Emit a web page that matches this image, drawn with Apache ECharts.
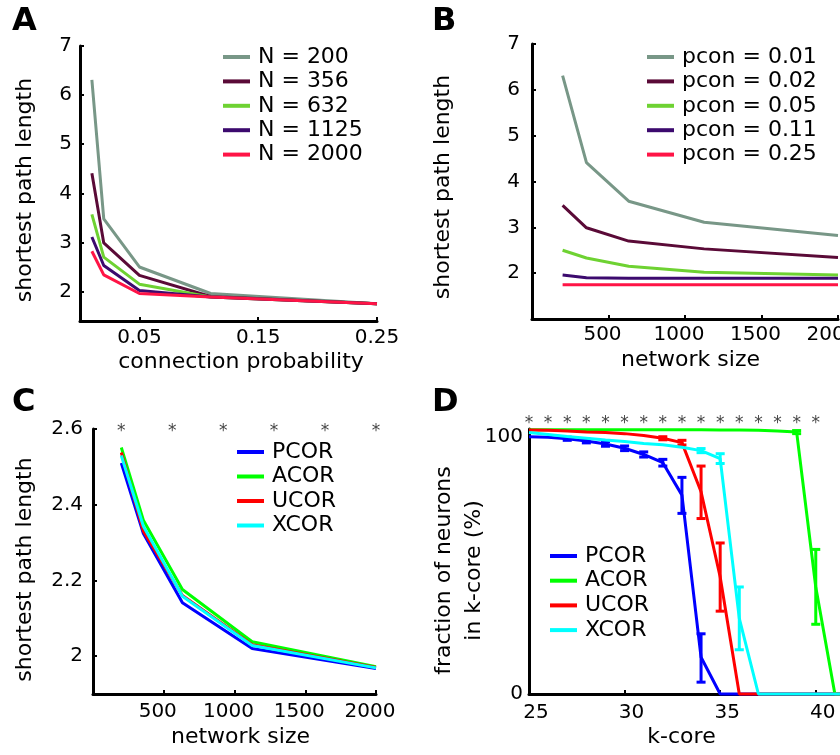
<!DOCTYPE html>
<html>
<head>
<meta charset="utf-8">
<script src="https://cdn.jsdelivr.net/npm/echarts@6/dist/echarts.min.js"></script>
<style>html,body{margin:0;padding:0;background:#fff}#c{width:840px;height:755px}</style>
</head>
<body>
<div id="c"></div>
<script>
// ---------- DATA ----------
// Panel A / B
const connProb = [0.01, 0.02, 0.05, 0.11, 0.25];
const netSize = [200, 356, 632, 1125, 2000];
const sizeNames = ['N = 200', 'N = 356', 'N = 632', 'N = 1125', 'N = 2000'];
const probNames = ['pcon = 0.01', 'pcon = 0.02', 'pcon = 0.05', 'pcon = 0.11', 'pcon = 0.25'];
const spl_N200  = [6.31, 3.48, 2.50, 1.96, 1.75];
const spl_N356  = [4.41, 2.99, 2.33, 1.90, 1.75];
const spl_N632  = [3.57, 2.70, 2.15, 1.89, 1.75];
const spl_N1125 = [3.11, 2.53, 2.02, 1.89, 1.75];
const spl_N2000 = [2.82, 2.34, 1.96, 1.89, 1.75];
const abTickY = [2, 3, 4, 5, 6, 7];
const aTickX = [0.05, 0.15, 0.25];
const sizeTicks = [500, 1000, 1500, 2000];

// Panel C
const corrNames = ['PCOR', 'ACOR', 'UCOR', 'XCOR'];
const spl_PCOR = [2.510, 2.324, 2.141, 2.020, 1.967];
const spl_ACOR = [2.551, 2.359, 2.176, 2.038, 1.972];
const spl_UCOR = [2.538, 2.330, 2.160, 2.030, 1.970];
const spl_XCOR = [2.530, 2.343, 2.158, 2.028, 1.969];
const cTickY = [2, 2.2, 2.4, 2.6];
const cStarX = [200, 560, 920, 1280, 1640, 2000];
const cStarY = 2.592;

// Panel D
const kcore = [25, 26, 27, 28, 29, 30, 31, 32, 33, 34, 35, 36, 37, 38, 39, 40, 41, 42];
const kc_PCOR = [100.0, 99.8, 99.2, 98.3, 97.2, 95.5, 93.1, 89.9, 77.3, 14.3, 0, 0, 0, 0, 0, 0, 0, 0];
const kc_ACOR = [102.7, 102.7, 102.7, 102.7, 102.7, 102.7, 102.7, 102.7, 102.7, 102.7, 102.6, 102.6, 102.5, 102.2, 101.8, 41.6, 0, 0];
const kc_UCOR = [102.6, 102.5, 102.2, 101.8, 101.6, 101.2, 100.5, 99.4, 97.7, 78.6, 45.5, 0, 0, 0, 0, 0, 0, 0];
const kc_XCOR = [101.6, 100.9, 100.1, 99.4, 98.7, 98.1, 97.4, 96.9, 95.9, 94.6, 91.5, 29.4, 0, 0, 0, 0, 0, 0];
// error bars: [k, low, high]
const err_PCOR = [[27, 98.6, 99.8], [28, 97.6, 99.0], [29, 96.3, 98.1], [30, 94.6, 96.4], [31, 92.1, 94.1], [32, 88.6, 91.2], [33, 70.2, 84.2], [34, 4.6, 23.4]];
const err_ACOR = [[39, 101.2, 102.4], [40, 27.1, 56.2]];
const err_UCOR = [[32, 98.8, 100.0], [33, 96.8, 98.6], [34, 68.2, 88.6], [35, 32.2, 58.7]];
const err_XCOR = [[34, 93.8, 95.4], [35, 89.6, 93.4], [36, 17.2, 41.6]];
const dTickX = [25, 30, 35, 40];
const dTickY = [0, 100];
const dStarK = [25, 26, 27, 28, 29, 30, 31, 32, 33, 34, 35, 36, 37, 38, 39, 40];
const dStarY = 105;

// ---------- STYLE ----------
const FONT = 'DejaVu Sans';
const abColors = ['#789787', '#5a0a37', '#6ed232', '#3c0a6e', '#ff1446'];
const corrColors = ['#0000ff', '#00ff00', '#ff0000', '#00ffff'];

const chart = echarts.init(document.getElementById('c'), null, {renderer: 'canvas', width: 840, height: 755});

function zip(xs, ys) { return xs.map((x, i) => [x, ys[i]]); }
const plainNum = v => String(v);

function axisBase(gridIndex, min, max, ticks, labelMargin, labelPadding) {
  return {
    type: 'value', gridIndex, min, max,
    nameMoveOverlap: false,
    axisLine: {show: true, onZero: false, lineStyle: {color: '#000', width: 3}},
    axisTick: {show: true, inside: true, length: 4, lineStyle: {color: '#000', width: 2}, customValues: ticks},
    axisLabel: {show: true, customValues: ticks, formatter: plainNum, fontSize: 20, color: '#000', fontFamily: FONT, margin: labelMargin, padding: labelPadding || 0},
    splitLine: {show: false},
    nameTextStyle: {fontSize: 22, color: '#000', fontFamily: FONT}
  };
}

function xAxis(gridIndex, min, max, ticks, name, gap, labelMargin, labelPadding, namePadding) {
  const a = axisBase(gridIndex, min, max, ticks, labelMargin, labelPadding);
  a.position = 'bottom';
  a.name = name; a.nameLocation = 'middle'; a.nameGap = gap;
  a.nameTextStyle.padding = namePadding || 0;
  return a;
}
function yAxis(gridIndex, min, max, ticks, name, gap, labelMargin, namePadding, lineHeight) {
  const a = axisBase(gridIndex, min, max, ticks, labelMargin);
  a.position = 'left';
  a.name = name; a.nameLocation = 'middle'; a.nameGap = gap;
  a.nameTextStyle.padding = namePadding || 0;
  if (lineHeight) a.nameTextStyle.lineHeight = lineHeight;
  return a;
}

function lineSeries(name, data, color, xi, yi) {
  return {
    type: 'line', name, data, xAxisIndex: xi, yAxisIndex: yi,
    symbol: 'none', color, clip: false,
    lineStyle: {color, width: 3}, itemStyle: {color},
    emphasis: {disabled: true}, animation: false
  };
}

function errRender(params, api) {
  const x = api.value(0), lo = api.value(1), hi = api.value(2);
  const p1 = api.coord([x, lo]), p2 = api.coord([x, hi]);
  const w = 4.5;
  const style = {stroke: api.visual('color'), lineWidth: 3};
  return {type: 'group', children: [
    {type: 'line', shape: {x1: p1[0], y1: p1[1], x2: p2[0], y2: p2[1]}, style},
    {type: 'line', shape: {x1: p1[0] - w, y1: p1[1], x2: p1[0] + w, y2: p1[1]}, style},
    {type: 'line', shape: {x1: p2[0] - w, y1: p2[1], x2: p2[0] + w, y2: p2[1]}, style}
  ]};
}
function errSeries(name, data, color, xi, yi) {
  return {type: 'custom', name: name + ' sem', data, xAxisIndex: xi, yAxisIndex: yi,
    renderItem: errRender, itemStyle: {color}, clip: false, animation: false, silent: true};
}
function starSeries(points, xi, yi) {
  return {
    type: 'scatter', name: 'sig', data: points, xAxisIndex: xi, yAxisIndex: yi,
    symbolSize: 1, clip: false, silent: true, itemStyle: {color: 'rgba(0,0,0,0)'},
    label: {show: true, position: 'inside', formatter: '*', fontSize: 17, color: '#111', fontFamily: FONT}
  };
}

// series
const series = [];
const splByN = [spl_N200, spl_N356, spl_N632, spl_N1125, spl_N2000];
splByN.forEach((arr, i) => series.push(lineSeries(sizeNames[i], zip(connProb, arr), abColors[i], 0, 0)));
connProb.forEach((p, j) => series.push(lineSeries(probNames[j], zip(netSize, splByN.map(a => a[j])), abColors[j], 1, 1)));
const splC = [spl_PCOR, spl_ACOR, spl_UCOR, spl_XCOR];
splC.forEach((arr, i) => series.push(lineSeries(corrNames[i], zip(netSize, arr), corrColors[i], 2, 2)));
series.push(starSeries(cStarX.map(x => [x, cStarY]), 2, 2));
const kcD = [kc_PCOR, kc_ACOR, kc_UCOR, kc_XCOR];
const errD = [err_PCOR, err_ACOR, err_UCOR, err_XCOR];
kcD.forEach((arr, i) => {
  series.push(lineSeries(corrNames[i], zip(kcore, arr), corrColors[i], 3, 3));
  series.push(errSeries(corrNames[i], errD[i], corrColors[i], 3, 3));
});
series.push(starSeries(dStarK.map(k => [k, dStarY]), 3, 3));

function legend(data, left, top, gap) {
  return {
    data, left, top, orient: 'vertical', padding: 0, itemGap: gap,
    itemWidth: 27, itemHeight: 4, icon: 'rect', selectedMode: false,
    textStyle: {fontSize: 22, color: '#000', fontFamily: FONT, lineHeight: 24, padding: [0, 0, 0, 3]}
  };
}

const titleStyle = {fontSize: 32, fontWeight: 'bold', color: '#000', fontFamily: FONT};
const gridBase = {containLabel: false, outerBoundsMode: 'none'};
const option = {
  animation: false,
  backgroundColor: '#ffffff',
  textStyle: {fontFamily: FONT, color: '#000'},
  title: [
    {text: 'A', left: 12, top: 6, padding: 0, textStyle: titleStyle},
    {text: 'B', left: 432, top: 6, padding: 0, textStyle: titleStyle},
    {text: 'C', left: 12, top: 387, padding: 0, textStyle: titleStyle},
    {text: 'D', left: 432, top: 387, padding: 0, textStyle: titleStyle}
  ],
  grid: [
    Object.assign({left: 80, top: 46, width: 297, height: 275}, gridBase),
    Object.assign({left: 532, top: 44, width: 306, height: 275}, gridBase),
    Object.assign({left: 93, top: 429, width: 283, height: 265}, gridBase),
    Object.assign({left: 529, top: 429, width: 325, height: 265}, gridBase)
  ],
  xAxis: [
    xAxis(0, 0, 0.25, aTickX, 'connection probability', 30, 7, 0, [0, 0, 0, 25]),
    xAxis(1, 0, 2000, sizeTicks, 'network size', 30, 6, [0, 12, 0, 0], [0, 0, 0, 11]),
    xAxis(2, 0, 2000, sizeTicks, 'network size', 32, 8, [0, 12, 0, 0], [0, 0, 0, 12]),
    xAxis(3, 25, 42, dTickX, 'k-core', 32, 9, [0, 0, 0, 14], [0, 20, 0, 0])
  ],
  yAxis: [
    yAxis(0, 1.4, 7, abTickY, 'shortest path length', 44, 8, [0, 13, 0, 0]),
    yAxis(1, 1, 7, abTickY, 'shortest path length', 78, 12, [0, 11, 0, 0]),
    yAxis(2, 1.9, 2.6, cTickY, 'shortest path length', 57, 10, [0, 16, 0, 0]),
    yAxis(3, 0, 103, dTickY, 'fraction of neurons\nin k-core (%)', 40, 6, [0, 18, 0, 0], 30)
  ],
  legend: [
    legend(sizeNames, 223, 45, 0.4),
    legend(probNames, 647, 45, 0.4),
    legend(corrNames, 237, 440, 0.5),
    legend(corrNames, 550, 544, 0.7)
  ],
  series
};
chart.setOption(option);
</script>
</body>
</html>
